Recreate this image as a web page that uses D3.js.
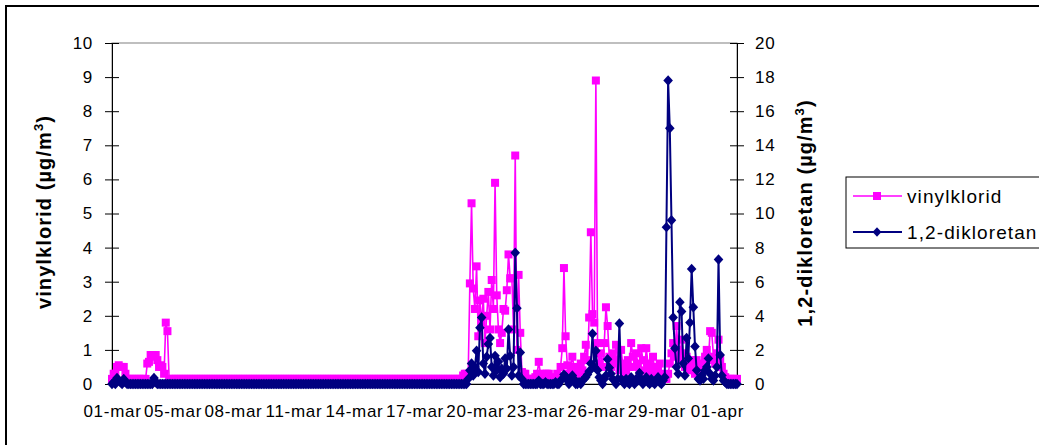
<!DOCTYPE html>
<html><head><meta charset="utf-8">
<script src="https://cdn.jsdelivr.net/npm/d3@7/dist/d3.min.js"></script>
<style>
body{margin:0;background:#fff}
svg{display:block}
text{font-family:"Liberation Sans",Arial,sans-serif}
</style>
</head><body>
<svg id="chart" width="1039" height="445"></svg>
<script>
// x-axis category labels (one label every `pointsPerLabel` samples, 2-hourly samples)
const tickLabels = ["01-mar","05-mar","08-mar","11-mar","14-mar","17-mar","20-mar","23-mar","26-mar","29-mar","01-apr"];
const pointsPerLabel = 36;
const leftTicks = [0,1,2,3,4,5,6,7,8,9,10];
const rightTicks = [0,2,4,6,8,10,12,14,16,18,20];
const seriesNames = ["vinylklorid","1,2-dikloretan"];

// vinylklorid (µg/m3), left axis
const vinylklorid = [
/*0*/   0.15,0.3,0.3,0.5,0.55,0.5,0.5,0.5,0.3,0.15,0.15,0.15,
/*12*/  0.15,0.15,0.15,0.15,0.15,0.15,0.15,0.15,0.15,0.6,0.65,0.85,
/*24*/  0.85,0.8,0.85,0.7,0.5,0.55,0.5,0.3,1.8,1.55,0.15,0.15,
/*36*/  0.15,0.15,0.15,0.15,0.15,0.15,0.15,0.15,0.15,0.15,0.15,0.15,
/*48*/  0.15,0.15,0.15,0.15,0.15,0.15,0.15,0.15,0.15,0.15,0.15,0.15,
/*60*/  0.15,0.15,0.15,0.15,0.15,0.15,0.15,0.15,0.15,0.15,0.15,0.15,
/*72*/  0.15,0.15,0.15,0.15,0.15,0.15,0.15,0.15,0.15,0.15,0.15,0.15,
/*84*/  0.15,0.15,0.15,0.15,0.15,0.15,0.15,0.15,0.15,0.15,0.15,0.15,
/*96*/  0.15,0.15,0.15,0.15,0.15,0.15,0.15,0.15,0.15,0.15,0.15,0.15,
/*108*/ 0.15,0.15,0.15,0.15,0.15,0.15,0.15,0.15,0.15,0.15,0.15,0.15,
/*120*/ 0.15,0.15,0.15,0.15,0.15,0.15,0.15,0.15,0.15,0.15,0.15,0.15,
/*132*/ 0.15,0.15,0.15,0.15,0.15,0.15,0.15,0.15,0.15,0.15,0.15,0.15,
/*144*/ 0.15,0.15,0.15,0.15,0.15,0.15,0.15,0.15,0.15,0.15,0.15,0.15,
/*156*/ 0.15,0.15,0.15,0.15,0.15,0.15,0.15,0.15,0.15,0.15,0.15,0.15,
/*168*/ 0.15,0.15,0.15,0.15,0.15,0.15,0.15,0.15,0.15,0.15,0.15,0.15,
/*180*/ 0.15,0.15,0.15,0.15,0.15,0.15,0.15,0.15,0.15,0.15,0.15,0.15,
/*192*/ 0.15,0.15,0.15,0.15,0.15,0.15,0.15,0.15,0.15,0.15,0.15,0.15,
/*204*/ 0.15,0.15,0.15,0.15,0.15,0.25,0.3,0.3,0.25,2.95,5.3,2.8,
/*216*/ 2.2,3.45,1.4,2.45,1.8,2.5,1.2,2.0,2.7,1.6,3.05,2.2,
/*228*/ 5.9,2.6,1.6,1.2,1.5,2.2,2.15,2.75,3.8,3.1,3.1,1.6,
/*240*/ 6.7,1.0,3.2,1.5,0.35,0.3,0.3,0.15,0.15,0.15,0.15,0.15,
/*252*/ 0.2,0.3,0.65,0.3,0.15,0.2,0.3,0.3,0.3,0.15,0.15,0.15,
/*264*/ 0.2,0.3,0.2,0.5,1.05,3.4,1.4,0.55,0.3,0.5,0.8,0.5,
/*276*/ 0.3,0.4,0.3,0.6,0.4,0.8,1.15,0.7,1.95,4.45,2.05,1.8,
/*288*/ 8.9,1.2,0.6,0.9,0.5,1.2,2.25,1.7,0.8,0.5,0.9,0.6,
/*300*/ 1.15,0.7,0.4,1.0,0.6,0.3,0.4,0.7,0.5,1.2,0.8,0.5,
/*312*/ 0.9,0.6,0.3,1.05,0.7,0.4,1.05,0.6,0.3,0.5,0.8,0.4,
/*324*/ 0.3,0.5,0.6,0.3,0.2,0.15,0.15,0.3,0.6,0.9,1.2,0.8,
/*336*/ 1.7,1.0,0.7,1.3,0.9,0.5,0.8,0.6,0.4,0.7,0.5,0.3,
/*348*/ 0.7,0.5,0.3,0.4,0.6,0.8,1.0,0.7,1.55,1.5,0.8,0.6,
/*360*/ 0.9,1.3,0.7,0.5,0.3,0.2,0.15,0.15,0.15,0.15,0.15,0.15,
/*372*/ 0.15
];

// 1,2-dikloretan (µg/m3), right axis
const dikloretan = [
/*0*/   0,0.1,0,0.35,0.2,0.1,0,0.3,0.1,0,0,0,
/*12*/  0,0,0,0,0,0,0,0,0,0,0,0,
/*24*/  0,0.35,0.1,0,0,0,0,0,0,0,0,0,
/*36*/  0,0,0,0,0,0,0,0,0,0,0,0,
/*48*/  0,0,0,0,0,0,0,0,0,0,0,0,
/*60*/  0,0,0,0,0,0,0,0,0,0,0,0,
/*72*/  0,0,0,0,0,0,0,0,0,0,0,0,
/*84*/  0,0,0,0,0,0,0,0,0,0,0,0,
/*96*/  0,0,0,0,0,0,0,0,0,0,0,0,
/*108*/ 0,0,0,0,0,0,0,0,0,0,0,0,
/*120*/ 0,0,0,0,0,0,0,0,0,0,0,0,
/*132*/ 0,0,0,0,0,0,0,0,0,0,0,0,
/*144*/ 0,0,0,0,0,0,0,0,0,0,0,0,
/*156*/ 0,0,0,0,0,0,0,0,0,0,0,0,
/*168*/ 0,0,0,0,0,0,0,0,0,0,0,0,
/*180*/ 0,0,0,0,0,0,0,0,0,0,0,0,
/*192*/ 0,0,0,0,0,0,0,0,0,0,0,0,
/*204*/ 0,0,0,0,0,0,0,0,0.3,0.8,1.2,0.5,
/*216*/ 1.0,1.95,0.7,3.3,3.9,1.2,0.6,1.6,2.35,2.7,1.0,0.5,
/*228*/ 1.65,0.8,1.3,0.4,0.9,0.6,1.5,0.9,3.2,1.65,0.5,1.0,
/*240*/ 7.7,4.45,0.5,1.85,0.3,0,0,0,0,0,0,0,
/*252*/ 0,0,0.2,0,0,0,0.1,0,0,0,0,0,
/*264*/ 0.1,0,0,0.2,0.3,0.55,0.45,0.2,0,0.2,0.5,0.3,
/*276*/ 0,0,0.1,0,0.2,0.3,0.4,0.55,0.75,1.2,2.95,1.0,
/*288*/ 1.95,0.8,0.4,0.2,0,0.3,0.5,1.45,0.95,0.6,0.3,0.2,
/*300*/ 0,0.3,3.55,0.3,0.2,0,0.3,0.1,0,0.4,0.2,0,
/*312*/ 0.3,0.2,0.65,0.3,0,0.2,0.4,0.1,0,0.3,0.1,0,
/*324*/ 0.2,0.4,0.1,0,0.2,0.4,9.2,17.8,15.0,9.6,3.9,2.1,
/*336*/ 1.0,0.6,4.8,4.25,1.2,0.5,2.7,1.5,3.6,6.75,4.5,2.2,
/*348*/ 0.8,0.3,0.2,0.5,0.3,0.8,1.0,1.5,0.6,0.3,0.2,0.5,
/*360*/ 1.0,7.3,1.7,0.5,0.2,0.1,0,0,0,0,0,0,
/*372*/ 0
];

const PINK = "#FF00FF", NAVY = "#000080";
const FONT = "Liberation Sans, Arial, sans-serif";
const svg = d3.select("#chart");
const M = {left:112, right:737, top:43, bottom:384};

const x = d3.scaleLinear().domain([0, vinylklorid.length-1]).range([M.left, M.right]);
const yL = d3.scaleLinear().domain([0,10]).range([M.bottom, M.top]);
const yR = d3.scaleLinear().domain([0,20]).range([M.bottom, M.top]);

// chart area border
svg.append("rect").attr("x",6).attr("y",6).attr("width",1100).attr("height",500)
  .attr("fill","#fff").attr("stroke","#000").attr("stroke-width",2);

// plot area border
svg.append("rect").attr("x",M.left).attr("y",M.top).attr("width",M.right-M.left).attr("height",M.bottom-M.top)
  .attr("fill","none").attr("stroke","#808080").attr("stroke-width",1);

function styleAxis(g){
  g.attr("font-size",17).attr("font-family",FONT);
  g.selectAll("text").attr("fill","#000").style("letter-spacing","0.7px");
  g.selectAll("line,path").attr("stroke","#000").attr("stroke-width",1);
}

// left axis
const gL = svg.append("g").attr("transform",`translate(${M.left},0)`)
  .call(d3.axisLeft(yL).tickValues(leftTicks).tickSizeInner(7).tickSizeOuter(0).tickPadding(12));
gL.selectAll(".tick line").attr("x1",7);
styleAxis(gL);

// right axis
const gR = svg.append("g").attr("transform",`translate(${M.right},0)`)
  .call(d3.axisRight(yR).tickValues(rightTicks).tickSizeInner(7).tickSizeOuter(0).tickPadding(11));
gR.selectAll(".tick line").attr("x1",-7);
styleAxis(gR);

// bottom axis
const labelIdx = tickLabels.map((_,k)=>k*pointsPerLabel);
const gX = svg.append("g").attr("transform",`translate(0,${M.bottom})`)
  .call(d3.axisBottom(x).tickValues(labelIdx).tickFormat((d,k)=>tickLabels[k]).tickSize(0).tickSizeOuter(0));
styleAxis(gX);
gX.selectAll("text").attr("y",33).attr("dy",0);

// axis titles
function axisTitle(tx, ty, main){
  const t = svg.append("text").attr("transform",`translate(${tx},${ty}) rotate(-90)`)
    .attr("text-anchor","middle").attr("font-family",FONT).attr("font-size",20)
    .attr("font-weight","bold").style("letter-spacing","1.1px");
  t.append("tspan").text(main + " (µg/m");
  t.append("tspan").attr("dy",-8).attr("font-size",13).text("3");
  t.append("tspan").attr("dy",8).text(")");
}
axisTitle(51, 212, seriesNames[0]);
axisTitle(812, 213, seriesNames[1]);

// series
const diamond = "M0,-5.2L4.8,0L0,5.2L-4.8,0Z";
function drawSeries(data, y, color, width, marker){
  const line = d3.line().x((d,i)=>x(i)).y(d=>y(d));
  svg.append("path").datum(data).attr("d",line).attr("fill","none")
    .attr("stroke",color).attr("stroke-width",width).attr("stroke-linejoin","round");
  const g = svg.append("g");
  if(marker==="square"){
    g.selectAll("rect").data(data).join("rect")
      .attr("x",(d,i)=>x(i)-4).attr("y",d=>y(d)-4).attr("width",8).attr("height",8)
      .attr("fill",color);
  } else {
    g.selectAll("path").data(data).join("path")
      .attr("transform",(d,i)=>`translate(${x(i)},${y(d)})`).attr("d",diamond).attr("fill",color);
  }
}
drawSeries(vinylklorid, yL, PINK, 1.6, "square");
drawSeries(dikloretan, yR, NAVY, 2, "diamond");

// legend
const lg = svg.append("g");
lg.append("rect").attr("x",846).attr("y",177).attr("width",220).attr("height",71)
  .attr("fill","#fff").attr("stroke","#000").attr("stroke-width",1);
const legendItems = [
  {name:seriesNames[0], color:PINK, marker:"square", y:196},
  {name:seriesNames[1], color:NAVY, marker:"diamond", y:232}
];
legendItems.forEach(it=>{
  lg.append("line").attr("x1",853).attr("x2",902).attr("y1",it.y).attr("y2",it.y)
    .attr("stroke",it.color).attr("stroke-width",it.marker==="square"?1.6:2);
  if(it.marker==="square"){
    lg.append("rect").attr("x",873).attr("y",it.y-4).attr("width",8).attr("height",8).attr("fill",it.color);
  } else {
    lg.append("path").attr("transform",`translate(877,${it.y})`).attr("d","M0,-4.8L4.4,0L0,4.8L-4.4,0Z").attr("fill",it.color);
  }
  lg.append("text").attr("x",907).attr("y",it.y+7).attr("font-family",FONT).attr("font-size",19)
    .style("letter-spacing","1.1px").attr("fill","#000").text(it.name);
});
</script>
</body></html>
